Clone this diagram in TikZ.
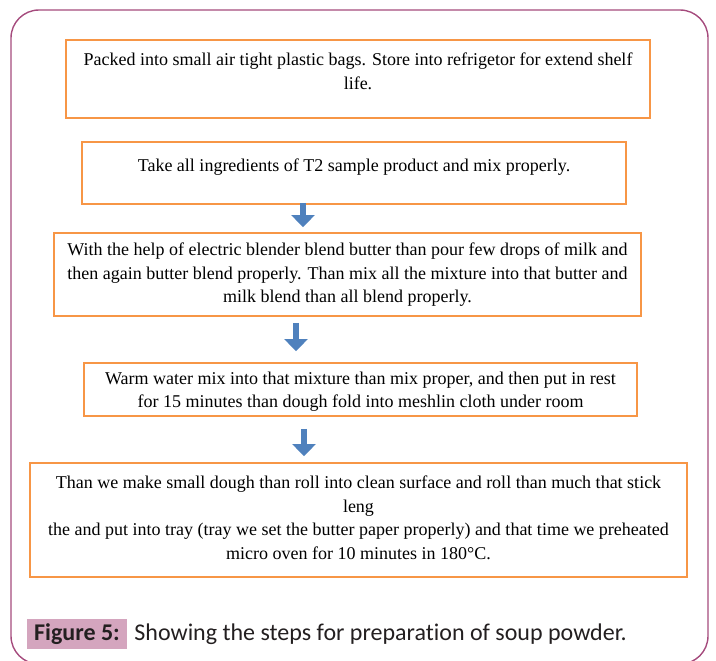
\documentclass[tikz,border=0pt]{standalone}
\usepackage{fontspec}
\setmainfont{Liberation Serif}
\newfontfamily\capfont{Carlito}[Ligatures=NoCommon]
\usetikzlibrary{arrows.meta, positioning}
\definecolor{framepurple}{RGB}{165,75,125}
\definecolor{boxorange}{RGB}{247,150,70}
\definecolor{arrowblue}{RGB}{79,129,189}
\definecolor{capink}{RGB}{212,165,190}
\definecolor{captext}{RGB}{35,31,32}

\begin{document}
\begin{tikzpicture}[x=1pt, y=-1pt,
        box/.style={draw=boxorange, line width=1.8pt, inner sep=0pt},
        flow/.style={line width=6pt, draw=arrowblue, -{Triangle[width=23pt,length=12pt]}},
        every node/.style={font=\fontsize{18}{23.5}\selectfont}]
    \useasboundingbox (0,0) rectangle (716,661);
    \draw[framepurple, line width=1.4pt, rounded corners=28pt] (11,10) rectangle (708,664);

    \node[box] (b1) at (358,79) {\parbox[c][78pt][t]{584pt}{\centering\vspace*{13pt}%
        Packed into small air tight plastic bags. Store into refrigetor for extend shelf\\ life.}};
    \node[box] (b2) at (354,173) {\parbox[c][62pt][t]{544pt}{\centering\vspace*{17pt}%
        Take all ingredients of T2 sample product and mix properly.}};
    \node[box] (b3) at (347.5,274.5) {\parbox[c][83pt][t]{587pt}{\centering\vspace*{10pt}%
        With the help of electric blender blend butter than pour few drops of milk and\\
        then again butter blend properly. Than mix all the mixture into that butter and\\
        milk blend than all blend properly.}};
    \node[box] (b4) at (360.5,389.5) {\parbox[c][53pt][t]{553pt}{\centering\vspace*{9pt}%
        Warm water mix into that mixture than mix proper, and then put in rest\\
        for 15 minutes than dough fold into meshlin cloth under room}};
    \node[box] (b5) at (358.5,520) {\parbox[c][114pt][t]{657pt}{\centering\vspace*{13pt}%
        Than we make small dough than roll into clean surface and roll than much that stick\\
        leng\\
        the and put into tray (tray we set the butter paper properly) and that time we preheated\\
        micro oven for 10 minutes in 180\textdegree C.}};

    \draw[flow, shorten <=-2pt, shorten >=5pt] ([xshift=-51pt]b2.south) -- ([xshift=-44.5pt]b3.north);
    \draw[flow, shorten <=6pt, shorten >=11pt] ([xshift=-51.5pt]b3.south) -- ([xshift=-64.5pt]b4.north);
    \draw[flow, shorten <=12pt, shorten >=6pt] ([xshift=-56.5pt]b4.south) -- ([xshift=-54.5pt]b5.north);

    \node[fill=capink, minimum width=100pt, minimum height=30pt, inner sep=0pt,
        font=\capfont\fontsize{24}{26}\selectfont\bfseries, text=captext] (fig) at (77,634) {Figure 5:};
    \node[right=7pt of fig, inner sep=0pt, font=\capfont\fontsize{24}{26}\selectfont, text=captext] (cap)
        {Showing the steps for preparation of soup powder.};
\end{tikzpicture}
\end{document}
